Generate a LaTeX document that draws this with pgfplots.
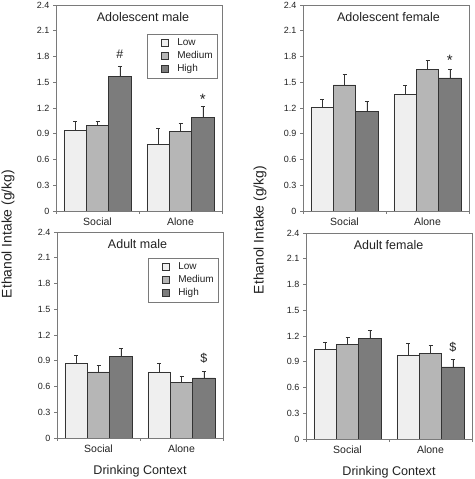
\documentclass[border=0pt]{standalone}
\usepackage{fontspec}
\setmainfont{Liberation Sans}
\usepackage{pgfplots}
\pgfplotsset{compat=1.18}
\definecolor{clow}{HTML}{EFEFEF}
\definecolor{cmed}{HTML}{B6B6B6}
\definecolor{chigh}{HTML}{7C7C7C}
\definecolor{edge}{HTML}{333333}
\definecolor{frame}{HTML}{7A7A7A}
\definecolor{txt}{HTML}{222222}
\tikzset{annot/.style={font=\fontsize{12.5}{14}\selectfont, text=txt, anchor=center},
  ptitle/.style={font=\fontsize{12.5}{14}\selectfont, text=txt, anchor=base}}
\pgfplotsset{
  panel/.style={
    scale only axis, width=166pt, height=206pt,
    xmin=-0.5, xmax=1.5, ymin=0, ymax=2.4,
    ytick={0,0.3,0.6,0.9,1.2,1.5,1.8,2.1,2.4},
    yticklabels={0,0.3,0.6,0.9,1.2,1.5,1.8,2.1,2.4},
    xtick={0,1}, xticklabels={Social,Alone},
    minor xtick={-0.5,0.5,1.5},
    tick align=outside,
    major x tick style={draw=none},
    ytick pos=left, xtick pos=bottom,
    axis line style={frame, line width=0.7pt},
    tick style={frame, line width=0.6pt},
    major tick length=3pt, minor tick length=3pt,
    /pgf/number format/assume math mode=true,
    yticklabel style={font=\fontsize{9}{10}\selectfont, text=txt},
    xticklabel style={font=\fontsize{10.5}{12}\selectfont, text=txt},
    xlabel style={font=\fontsize{12.6}{14}\selectfont, text=txt, yshift=-6pt},
    ybar, bar width=0.27,
    every axis plot/.append style={draw=edge, line width=0.6pt},
    error bars/y dir=plus, error bars/y explicit,
    error bars/error bar style={edge, line width=0.6pt},
    error bars/error mark options={rotate=90, mark size=2pt, edge, line width=0.6pt},
    legend image code/.code={\draw[white, line width=0.2pt] (0pt,0pt) -- (26pt,0pt); \draw[##1, line width=0.5pt] (12pt,-3.5pt) rectangle (19pt,3.5pt);},
    legend style={at={(0.97,0.86)}, anchor=north east, draw=frame, fill=white,
      font=\fontsize{10}{11.5}\selectfont, text=txt, row sep=0.5pt, inner xsep=2pt, inner ysep=2.5pt,
      cells={anchor=west}},
  }
}
\begin{document}
\begin{tikzpicture}
\useasboundingbox (0pt,0pt) rectangle (474pt,479pt);
% Adolescent male
\begin{axis}[panel, at={(56pt,268pt)}, anchor=south west]
\addplot[fill=clow, bar shift=-0.27] coordinates {(0,0.94) +- (0,0.105) (1,0.78) +- (0,0.18)};
\addplot[fill=cmed, bar shift=0] coordinates {(0,1.00) +- (0,0.045) (1,0.93) +- (0,0.095)};
\addplot[fill=chigh, bar shift=0.27] coordinates {(0,1.57) +- (0,0.12) (1,1.095) +- (0,0.125)};
\legend{Low,Medium,High}
\node[ptitle] at (rel axis cs:0.524,0.918) {Adolescent male};
\node[annot] at (axis cs:0.27,1.83) {\#};
\node[annot, font=\fontsize{15}{16}\selectfont] at (axis cs:1.27,1.30) {*};
\end{axis}
% Adolescent female
\begin{axis}[panel, at={(303pt,268pt)}, anchor=south west]
\addplot[fill=clow, bar shift=-0.27] coordinates {(0,1.21) +- (0,0.09) (1,1.36) +- (0,0.105)};
\addplot[fill=cmed, bar shift=0] coordinates {(0,1.47) +- (0,0.12) (1,1.65) +- (0,0.105)};
\addplot[fill=chigh, bar shift=0.27] coordinates {(0,1.16) +- (0,0.12) (1,1.55) +- (0,0.10)};
\node[ptitle] at (rel axis cs:0.515,0.918) {Adolescent female};
\node[annot, font=\fontsize{15}{16}\selectfont] at (axis cs:1.27,1.76) {*};
\end{axis}
% Adult male
\begin{axis}[panel, at={(57pt,41pt)}, anchor=south west, xlabel={Drinking Context},
  legend style={at={(0.97,0.875)}}]
\addplot[fill=clow, bar shift=-0.27] coordinates {(0,0.865) +- (0,0.097) (1,0.77) +- (0,0.105)};
\addplot[fill=cmed, bar shift=0] coordinates {(0,0.77) +- (0,0.08) (1,0.645) +- (0,0.078)};
\addplot[fill=chigh, bar shift=0.27] coordinates {(0,0.95) +- (0,0.097) (1,0.70) +- (0,0.08)};
\legend{Low,Medium,High}
\node[ptitle] at (rel axis cs:0.485,0.918) {Adult male};
\node[annot] at (axis cs:1.27,0.93) {\$};
\end{axis}
% Adult female
\begin{axis}[panel, at={(306pt,40pt)}, anchor=south west, xlabel={Drinking Context}]
\addplot[fill=clow, bar shift=-0.27] coordinates {(0,1.045) +- (0,0.08) (1,0.98) +- (0,0.13)};
\addplot[fill=cmed, bar shift=0] coordinates {(0,1.10) +- (0,0.085) (1,1.00) +- (0,0.09)};
\addplot[fill=chigh, bar shift=0.27] coordinates {(0,1.17) +- (0,0.095) (1,0.84) +- (0,0.09)};
\node[ptitle] at (rel axis cs:0.497,0.918) {Adult female};
\node[annot] at (axis cs:1.27,1.065) {\$};
\end{axis}
\node[rotate=90, font=\fontsize{13.9}{15}\selectfont, text=txt] at (8pt,245pt) {Ethanol Intake (g/kg)};
\node[rotate=90, font=\fontsize{13.9}{15}\selectfont, text=txt] at (260pt,249pt) {Ethanol Intake (g/kg)};
\end{tikzpicture}
\end{document}
